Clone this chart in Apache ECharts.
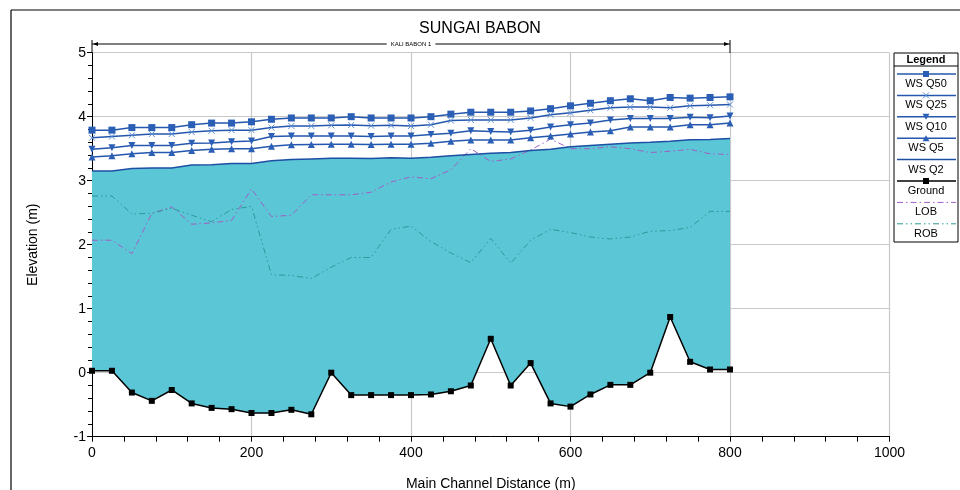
<!DOCTYPE html>
<html>
<head>
<meta charset="utf-8">
<script src="https://cdn.jsdelivr.net/npm/echarts@6/dist/echarts.min.js"></script>
<style>html,body{margin:0;padding:0;background:#fff}#c{width:960px;height:490px}</style>
</head>
<body>
<div id="c"></div>
<script>
const stations = [0,25,50,75,100,125,150,175,200,225,250,275,300,325,350,375,400,425,450,475,500,525,550,575,600,625,650,675,700,725,750,775,800];
const ground = [0.03,0.03,-0.31,-0.44,-0.27,-0.48,-0.55,-0.57,-0.63,-0.63,-0.58,-0.65,0.0,-0.35,-0.35,-0.35,-0.35,-0.34,-0.29,-0.2,0.53,-0.2,0.15,-0.48,-0.53,-0.34,-0.19,-0.19,0.0,0.87,0.17,0.05,0.05];
const wsQ2 = [3.15,3.15,3.19,3.2,3.2,3.245,3.25,3.27,3.27,3.31,3.33,3.34,3.35,3.35,3.345,3.36,3.35,3.365,3.39,3.41,3.43,3.44,3.47,3.49,3.53,3.55,3.57,3.59,3.6,3.615,3.64,3.645,3.66];
const wsQ5 = [3.37,3.39,3.42,3.44,3.44,3.47,3.49,3.5,3.5,3.54,3.56,3.565,3.57,3.57,3.565,3.57,3.57,3.585,3.615,3.635,3.635,3.635,3.67,3.7,3.73,3.76,3.78,3.84,3.84,3.84,3.875,3.875,3.9];
const wsQ10 = [3.49,3.515,3.55,3.55,3.55,3.585,3.59,3.61,3.62,3.69,3.7,3.7,3.7,3.7,3.69,3.7,3.7,3.72,3.74,3.78,3.77,3.76,3.79,3.84,3.875,3.9,3.95,3.97,3.97,3.97,3.99,3.985,4.01];
const wsQ25 = [3.67,3.69,3.71,3.73,3.73,3.76,3.78,3.79,3.79,3.83,3.855,3.855,3.865,3.87,3.86,3.865,3.855,3.875,3.94,3.95,3.95,3.95,3.98,4.03,4.06,4.1,4.14,4.15,4.15,4.14,4.17,4.18,4.19];
const wsQ50 = [3.79,3.79,3.83,3.83,3.83,3.875,3.9,3.9,3.92,3.96,3.98,3.98,3.98,4.0,3.98,3.98,3.98,4.0,4.04,4.07,4.07,4.07,4.09,4.125,4.17,4.21,4.25,4.28,4.25,4.3,4.29,4.3,4.31];
const lob = [2.07,2.07,1.86,2.49,2.59,2.32,2.34,2.38,2.87,2.44,2.46,2.78,2.78,2.78,2.82,2.98,3.06,3.03,3.17,3.5,3.3,3.34,3.48,3.65,3.5,3.5,3.53,3.5,3.44,3.46,3.49,3.42,3.41];
const rob = [2.76,2.76,2.48,2.49,2.57,2.46,2.36,2.55,2.6,1.53,1.52,1.47,1.65,1.8,1.8,2.24,2.29,2.05,1.87,1.72,2.1,1.71,2.07,2.24,2.19,2.12,2.09,2.12,2.21,2.22,2.27,2.52,2.52];
const legendNames = ['WS Q50','WS Q25','WS Q10','WS Q5','WS Q2','Ground','LOB','ROB'];
const reachName = 'KALI BABON 1';
const reachStart = 0, reachEnd = 800;
const titleText = 'SUNGAI BABON';
const xName = 'Main Channel Distance (m)';
const yName = 'Elevation (m)';

const FONT = 'Liberation Sans, Arial, sans-serif';
const WS = '#2457ad';
const WSMARK = '#2a5fb5';
const FILL = '#5bc6d6';
const LOBC = '#a05fc4';
const ROBC = '#2a9a98';
const XSYM = 'path://M0,0L10,10M10,0L0,10';
const TDOWN = 'path://M0,0L10,0L5,10Z';

const pairs = arr => stations.map((s, i) => [s, arr[i]]);

const chart = echarts.init(document.getElementById('c'));
function wsSeries(name, arr, symbol, size, extra) {
  return Object.assign({
    name, type: 'line', data: pairs(arr), symbol, symbolSize: size, showSymbol: symbol !== 'none',
    lineStyle: { color: WS, width: 1.5 }, itemStyle: { color: WSMARK }, z: 5, animation: false
  }, extra || {});
}
// water area between WS Q2 and ground, one polygon drawn through the axes' scales
const fillSeries = {
  name: 'water', type: 'custom', z: 1, silent: true,
  data: [[stations[0], wsQ2[0]]],
  renderItem: function (params, api) {
    const top = stations.map((s, i) => api.coord([s, wsQ2[i]]));
    const bot = stations.map((s, i) => api.coord([s, ground[i]])).reverse();
    return { type: 'polygon', shape: { points: top.concat(bot) }, style: { fill: FILL, stroke: null } };
  }
};
chart.setOption({
  animation: false,
  title: { text: titleText, left: 'center', top: 16, textStyle: { fontFamily: FONT, fontSize: 16, fontWeight: 'normal', color: '#000' } },
  grid: { left: 92, right: 70.5, top: 52.7, bottom: 53.3, containLabel: false, outerBoundsMode: 'none' },
  xAxis: {
    type: 'value', min: 0, max: 1000, interval: 200,
    name: xName, nameLocation: 'middle', nameGap: 40,
    nameTextStyle: { fontFamily: FONT, fontSize: 14, color: '#000' },
    axisLine: { show: true, onZero: false, lineStyle: { color: '#000', width: 1 } },
    axisTick: { show: true, length: 5, lineStyle: { color: '#000' } },
    minorTick: { show: true, splitNumber: 5, length: 5, lineStyle: { color: '#000' } },
    axisLabel: { fontFamily: FONT, fontSize: 14, color: '#000', margin: 9, formatter: v => String(v) },
    splitLine: { show: true, lineStyle: { color: '#c8c8c8', width: 1.2 } }
  },
  yAxis: {
    type: 'value', min: -1, max: 5, interval: 1,
    name: yName, nameLocation: 'middle', nameGap: 52, nameRotate: 90,
    nameTextStyle: { fontFamily: FONT, fontSize: 14, color: '#000' },
    axisLine: { show: true, onZero: false, lineStyle: { color: '#000', width: 1 } },
    axisTick: { show: true, length: 5, lineStyle: { color: '#000' } },
    minorTick: { show: true, splitNumber: 5, length: 4, lineStyle: { color: '#000' } },
    axisLabel: { fontFamily: FONT, fontSize: 14, color: '#000', margin: 6 },
    splitLine: { show: true, lineStyle: { color: '#c8c8c8', width: 1.2 } }
  },
  series: [
    fillSeries,
    { name: 'LOB', type: 'line', data: pairs(lob), symbol: 'none', lineStyle: { color: LOBC, width: 1, type: [6, 3, 1.5, 3] }, z: 3 },
    { name: 'ROB', type: 'line', data: pairs(rob), symbol: 'none', lineStyle: { color: ROBC, width: 1, type: [6, 3, 1.5, 3, 1.5, 3] }, z: 3 },
    { name: 'Ground', type: 'line', data: pairs(ground), symbol: 'rect', symbolSize: 6, lineStyle: { color: '#000', width: 1.5 }, itemStyle: { color: '#000' }, z: 4 },
    wsSeries('WS Q2', wsQ2, 'none', 0, { lineStyle: { color: '#1d4fa3', width: 1.5 } }),
    wsSeries('WS Q5', wsQ5, 'triangle', 7),
    wsSeries('WS Q10', wsQ10, TDOWN, 7),
    wsSeries('WS Q25', wsQ25, XSYM, 6, { itemStyle: { color: 'none', borderColor: '#5b8fd6', borderWidth: 1 } }),
    wsSeries('WS Q50', wsQ50, 'rect', 7)
  ]
});

// annotations: reach marker, legend box, frame
const x0 = chart.convertToPixel({ xAxisIndex: 0 }, reachStart);
const x1 = chart.convertToPixel({ xAxisIndex: 0 }, reachEnd);
const xm = chart.convertToPixel({ xAxisIndex: 0 }, (reachStart + reachEnd) / 2);
const ry = 44;
const g = [];
g.push({ type: 'line', shape: { x1: 11, y1: 490, x2: 11, y2: 10 }, style: { stroke: '#000', lineWidth: 1.2 } });
g.push({ type: 'line', shape: { x1: 11, y1: 10, x2: 960, y2: 10 }, style: { stroke: '#000', lineWidth: 1.2 } });
g.push({ type: 'line', shape: { x1: x0, y1: ry, x2: x1, y2: ry }, style: { stroke: '#000', lineWidth: 1 } });
g.push({ type: 'line', shape: { x1: x0, y1: ry - 4, x2: x0, y2: 53 }, style: { stroke: '#000', lineWidth: 1 } });
g.push({ type: 'line', shape: { x1: x1, y1: ry - 4, x2: x1, y2: 53 }, style: { stroke: '#000', lineWidth: 1 } });
g.push({ type: 'polygon', shape: { points: [[x0 + 1, ry], [x0 + 6, ry - 2], [x0 + 6, ry + 2]] }, style: { fill: '#000' } });
g.push({ type: 'polygon', shape: { points: [[x1 - 1, ry], [x1 - 6, ry - 2], [x1 - 6, ry + 2]] }, style: { fill: '#000' } });
g.push({ type: 'text', x: xm, y: ry, style: { text: reachName, fontFamily: FONT, fontSize: 6, fill: '#000', align: 'center', verticalAlign: 'middle', backgroundColor: '#fff', padding: [0, 4] } });

// legend box
const LX = 894, LY = 53, LW = 64, LH = 189;
g.push({ type: 'rect', shape: { x: LX, y: LY, width: LW, height: LH }, style: { fill: '#fff', stroke: '#000', lineWidth: 1 } });
g.push({ type: 'text', x: LX + LW / 2, y: 60, style: { text: 'Legend', fontFamily: FONT, fontSize: 11, fontWeight: 'bold', fill: '#000', align: 'center', verticalAlign: 'middle' } });
g.push({ type: 'line', shape: { x1: LX, y1: 66, x2: LX + LW, y2: 66 }, style: { stroke: '#000', lineWidth: 1 } });
const legendStyles = [
  { c: WS, sym: 'rect' }, { c: WS, sym: 'x' }, { c: WS, sym: 'tdown' }, { c: WS, sym: 'tup' },
  { c: '#1d4fa3', sym: null }, { c: '#000', sym: 'rectk' },
  { c: LOBC, sym: null, dash: [6, 3, 1.5, 3] }, { c: ROBC, sym: null, dash: [6, 3, 1.5, 3, 1.5, 3] }
];
legendNames.forEach((name, i) => {
  const ly = 74 + i * 21.4;
  const st = legendStyles[i];
  const cx = LX + LW / 2;
  g.push({ type: 'line', shape: { x1: LX + 3, y1: ly, x2: LX + LW - 2, y2: ly }, style: { stroke: st.c, lineWidth: st.dash ? 1 : 1.5, lineDash: st.dash || null } });
  if (st.sym === 'rect') g.push({ type: 'rect', shape: { x: cx - 3, y: ly - 3, width: 6, height: 6 }, style: { fill: WSMARK } });
  if (st.sym === 'rectk') g.push({ type: 'rect', shape: { x: cx - 3, y: ly - 3, width: 6, height: 6 }, style: { fill: '#000' } });
  if (st.sym === 'x') g.push({ type: 'polyline', shape: { points: [[cx - 3, ly - 3], [cx + 3, ly + 3]] }, style: { stroke: '#5b8fd6', lineWidth: 1 } }, { type: 'polyline', shape: { points: [[cx + 3, ly - 3], [cx - 3, ly + 3]] }, style: { stroke: '#5b8fd6', lineWidth: 1 } });
  if (st.sym === 'tdown') g.push({ type: 'polygon', shape: { points: [[cx - 3.5, ly - 3], [cx + 3.5, ly - 3], [cx, ly + 3]] }, style: { fill: WSMARK } });
  if (st.sym === 'tup') g.push({ type: 'polygon', shape: { points: [[cx - 3.5, ly + 3], [cx + 3.5, ly + 3], [cx, ly - 3]] }, style: { fill: WSMARK } });
  g.push({ type: 'text', x: cx, y: ly + 10, style: { text: name, fontFamily: FONT, fontSize: 11, fill: '#000', align: 'center', verticalAlign: 'middle' } });
});
chart.setOption({ graphic: g });
</script>
</body>
</html>
